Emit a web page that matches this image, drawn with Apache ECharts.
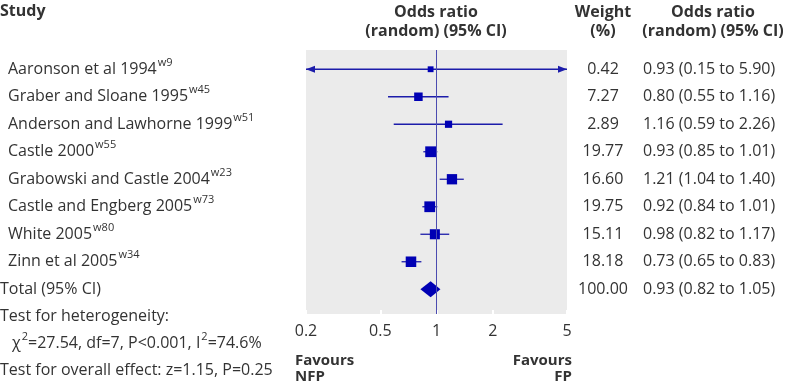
<!DOCTYPE html>
<html>
<head>
<meta charset="utf-8">
<script src="https://cdn.jsdelivr.net/npm/echarts@6/dist/echarts.min.js"></script>
<style>
  html, body { margin: 0; padding: 0; background: #fff; }
  #chart { width: 785px; height: 388px; }
</style>
</head>
<body>
<div id="chart"></div>
<script>
// studies in the meta-analysis
const studies = ['Aaronson et al 1994', 'Graber and Sloane 1995', 'Anderson and Lawhorne 1999', 'Castle 2000',
  'Grabowski and Castle 2004', 'Castle and Engberg 2005', 'White 2005', 'Zinn et al 2005'];
const refs = ['w9', 'w45', 'w51', 'w55', 'w23', 'w73', 'w80', 'w34'];
const oddsRatio = [0.93, 0.80, 1.16, 0.93, 1.21, 0.92, 0.98, 0.73];
const ciLow = [0.15, 0.55, 0.59, 0.85, 1.04, 0.84, 0.82, 0.65];
const ciHigh = [5.90, 1.16, 2.26, 1.01, 1.40, 1.01, 1.17, 0.83];
const weights = [0.42, 7.27, 2.89, 19.77, 16.60, 19.75, 15.11, 18.18];

// pooled estimate
const totalLabel = 'Total (95% CI)';
const totalOR = 0.93, totalLow = 0.82, totalHigh = 1.05, totalWeight = 100.00;

// tests
const chi2 = 27.54, df = 7, pHet = '<0.001', i2 = 74.6;
const zOverall = 1.15, pOverall = 0.25;

const xTicks = [0.2, 0.5, 1, 2, 5];

const FONT = "'Open Sans', 'Noto Sans', sans-serif";
const TXT = '#333';
const BLUE = '#0000b4';
const LINE = '#1c1caa';

// superscript via rich text: padded box pushes the small text upward
const RICH = {
    n: { fontSize: 16, fontFamily: FONT, fill: TXT },
    s: { fontSize: 11, fontFamily: FONT, fill: TXT, padding: [0, 0, 13, 1] }
};

let rows = [];
for (let i = 0; i < studies.length; i++) {
    rows.push([oddsRatio[i], i + 1, ciLow[i], ciHigh[i], weights[i], 0]);
}
rows.push([totalOR, studies.length + 1, totalLow, totalHigh, totalWeight, 1]);

const XMIN = xTicks[0], XMAX = xTicks[xTicks.length - 1];

function renderRow(params, api) {
    let i = params.dataIndex;
    let or = api.value(0), y = api.value(1), lo = api.value(2), hi = api.value(3), w = api.value(4);
    let isTotal = api.value(5) === 1;
    let c = api.coord([or, y]);
    let pLo = api.coord([Math.max(lo, XMIN), y]);
    let pHi = api.coord([Math.min(hi, XMAX), y]);
    let children = [];

    // left label
    let label = isTotal ? '{n|' + totalLabel + '}' : '{n|' + studies[i] + '}{s|' + refs[i] + '}';
    children.push({
        type: 'text', x: isTotal ? 0 : 8, y: c[1],
        style: { text: label, verticalAlign: 'middle', align: 'left', rich: RICH }
    });
    // weight and OR text
    children.push({
        type: 'text', x: 603, y: c[1],
        style: { text: w.toFixed(2), align: 'center', verticalAlign: 'middle', fontSize: 16, fontFamily: FONT, fill: TXT }
    });
    children.push({
        type: 'text', x: 643, y: c[1],
        style: {
            text: or.toFixed(2) + ' (' + lo.toFixed(2) + ' to ' + hi.toFixed(2) + ')',
            align: 'left', verticalAlign: 'middle', fontSize: 16, fontFamily: FONT, fill: TXT
        }
    });

    if (isTotal) {
        let l = api.coord([lo, y]), r = api.coord([hi, y]);
        children.push({
            type: 'polygon',
            shape: { points: [[l[0], c[1]], [c[0], c[1] - 8], [r[0], c[1]], [c[0], c[1] + 8]] },
            style: { fill: BLUE }
        });
        return { type: 'group', children: children };
    }

    children.push({
        type: 'line',
        shape: { x1: pLo[0], y1: c[1], x2: pHi[0], y2: c[1] },
        style: { stroke: LINE, lineWidth: 1.3 }
    });
    if (lo < XMIN) {
        children.push({
            type: 'polygon',
            shape: { points: [[pLo[0], c[1]], [pLo[0] + 9, c[1] - 3.5], [pLo[0] + 9, c[1] + 3.5]] },
            style: { fill: LINE }
        });
    }
    if (hi > XMAX) {
        children.push({
            type: 'polygon',
            shape: { points: [[pHi[0], c[1]], [pHi[0] - 9, c[1] - 3.5], [pHi[0] - 9, c[1] + 3.5]] },
            style: { fill: LINE }
        });
    }
    let s = 5 + 1.3 * Math.sqrt(w);
    children.push({
        type: 'rect',
        shape: { x: c[0] - s / 2, y: c[1] - s / 2, width: s, height: s },
        style: { fill: BLUE }
    });
    return { type: 'group', children: children };
}

let chart = echarts.init(document.getElementById('chart'));
let option = {
    animation: false,
    grid: {
        left: 306, right: 218, top: 50, bottom: 74,
        show: true, backgroundColor: '#ebebeb', borderWidth: 0
    },
    xAxis: {
        type: 'log', logBase: 10, min: XMIN, max: XMAX,
        axisLine: { show: false },
        splitLine: { show: false },
        axisTick: { show: true, inside: true, length: 4, customValues: xTicks, lineStyle: { color: '#fff', width: 2 } },
        axisLabel: { customValues: xTicks, fontSize: 16, fontFamily: FONT, color: TXT, margin: 9 }
    },
    yAxis: {
        type: 'value', inverse: true, min: 0.3, max: 9.9, show: false
    },
    graphic: [
        { type: 'text', left: 0, top: 3, style: { text: 'Study', font: 'bold 16px ' + FONT, fill: TXT } },
        { type: 'text', x: 436, y: 3, style: { text: 'Odds ratio\n(random) (95% CI)', align: 'center', lineHeight: 19, font: 'bold 16px ' + FONT, fill: TXT } },
        { type: 'text', x: 603, y: 3, style: { text: 'Weight\n(%)', align: 'center', lineHeight: 19, font: 'bold 16px ' + FONT, fill: TXT } },
        { type: 'text', x: 713, y: 3, style: { text: 'Odds ratio\n(random) (95% CI)', align: 'center', lineHeight: 19, font: 'bold 16px ' + FONT, fill: TXT } },
        { type: 'text', x: 0, y: 316, style: { text: 'Test for heterogeneity:', verticalAlign: 'middle', font: '16px ' + FONT, fill: TXT } },
        {
            type: 'text', x: 12, y: 343,
            style: {
                text: '{n|χ}{s|2}{n|=' + chi2 + ', df=' + df + ', P' + pHet + ', I}{s|2}{n|=' + i2 + '%}',
                verticalAlign: 'middle', rich: RICH
            }
        },
        { type: 'text', x: 0, y: 370, style: { text: 'Test for overall effect: z=' + zOverall + ', P=' + pOverall, verticalAlign: 'middle', font: '16px ' + FONT, fill: TXT } },
        { type: 'text', x: 295, y: 353, style: { text: 'Favours\nNFP', align: 'left', lineHeight: 16, font: 'bold 15px ' + FONT, fill: TXT } },
        { type: 'text', x: 572, y: 353, style: { text: 'Favours\nFP', align: 'right', lineHeight: 16, font: 'bold 15px ' + FONT, fill: TXT } }
    ],
    series: [{
        type: 'custom',
        renderItem: renderRow,
        data: rows,
        clip: false,
        encode: { x: 0, y: 1 },
        markLine: {
            silent: true, symbol: 'none', label: { show: false },
            lineStyle: { color: '#4b4bb0', width: 1, type: 'solid' },
            data: [{ xAxis: 1 }]
        }
    }]
};
chart.setOption(option);
</script>
</body>
</html>
